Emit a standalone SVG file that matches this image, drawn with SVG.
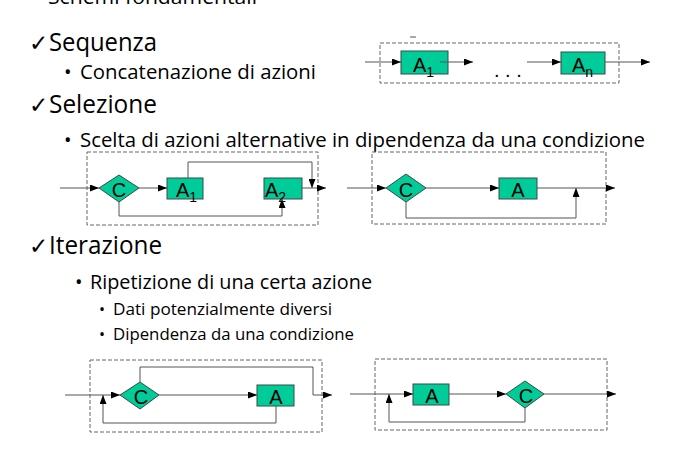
<svg xmlns="http://www.w3.org/2000/svg" width="693" height="473" viewBox="0 0 693 473">
<defs>
<marker id="arr" markerWidth="9" markerHeight="7" refX="9" refY="3.5" orient="auto" markerUnits="userSpaceOnUse"><path d="M0,0 L9,3.5 L0,7 z" fill="#000"/></marker>
<style>
.h{font-family:"Open Sans","Noto Sans",sans-serif;font-size:25px;fill:#000}
.b{font-family:"Open Sans","Noto Sans",sans-serif;font-size:20px;fill:#000}
.s{font-family:"Open Sans","Noto Sans",sans-serif;font-size:16px;fill:#000}
.ck{font-family:"DejaVu Sans",sans-serif;font-size:23px;fill:#000}
.box{fill:none;stroke:#666;stroke-width:1;stroke-dasharray:4,2}
.n{fill:#00CC99;stroke:#3a4a44;stroke-width:1}
.l{font-family:"Liberation Sans",Arial,sans-serif;font-size:20px;fill:#000}
.c{fill:none;stroke:#555;stroke-width:1}
.a{fill:none;stroke:#555;stroke-width:1;marker-end:url(#arr)}
</style>
</defs>
<rect width="693" height="473" fill="#fff"/>
<g id="texts">
<text class="b" x="48" y="4" textLength="209" lengthAdjust="spacingAndGlyphs">Schemi fondamentali</text>
<text class="ck" x="29" y="51">✓</text><text class="h" x="49" y="51" textLength="108" lengthAdjust="spacingAndGlyphs">Sequenza</text>
<text class="b" x="64" y="79">•</text><text class="b" x="80" y="79" textLength="236" lengthAdjust="spacingAndGlyphs">Concatenazione di azioni</text>
<text class="ck" x="29" y="113">✓</text><text class="h" x="49" y="113" textLength="108" lengthAdjust="spacingAndGlyphs">Selezione</text>
<text class="b" x="64" y="147">•</text><text class="b" x="80" y="147" textLength="565" lengthAdjust="spacingAndGlyphs">Scelta di azioni alternative in dipendenza da una condizione</text>
<text class="ck" x="29" y="254">✓</text><text class="h" x="49" y="254" textLength="113" lengthAdjust="spacingAndGlyphs">Iterazione</text>
<text class="b" x="75" y="289">•</text><text class="b" x="90" y="289" textLength="282" lengthAdjust="spacingAndGlyphs">Ripetizione di una certa azione</text>
<text class="s" x="99" y="315">•</text><text class="s" x="113" y="315" textLength="219" lengthAdjust="spacingAndGlyphs">Dati potenzialmente diversi</text>
<text class="s" x="99" y="340">•</text><text class="s" x="113" y="340" textLength="241" lengthAdjust="spacingAndGlyphs">Dipendenza da una condizione</text>
</g>
<g id="frames">
<rect class="box" x="380" y="43" width="239" height="40"/>
<line x1="410" y1="37" x2="416" y2="37" stroke="#555" stroke-width="1"/>
<rect class="box" x="87" y="152" width="231" height="73"/>
<rect class="box" x="372" y="152" width="234" height="72"/>
<rect class="box" x="90" y="360" width="232" height="72"/>
<rect class="box" x="375" y="359" width="232" height="71"/>
</g>
<g id="seq-A1"><rect class="n" x="401" y="51" width="47" height="23"/><text class="l" x="413" y="72">A<tspan font-size="14" dy="5">1</tspan></text></g>
<g id="seq-An"><rect class="n" x="561" y="52" width="44" height="22"/><text class="l" x="572" y="72">A<tspan font-size="14" dy="5">n</tspan></text></g>
<g id="seq-dots"><text class="l" x="494" y="77" font-size="14">. . .</text></g>
<g id="sel1-C"><polygon class="n" points="99,188 119,175 139,188 119,202"/><text class="l" x="119" y="197" text-anchor="middle">C</text></g>
<g id="sel1-A1"><rect class="n" x="167" y="178" width="36" height="21"/><text class="l" x="176" y="197">A<tspan font-size="14" dy="5">1</tspan></text></g>
<g id="sel1-A2"><rect class="n" x="264" y="178" width="38" height="21"/><text class="l" x="265" y="197">A<tspan font-size="14" dy="5">2</tspan></text></g>
<g id="sel2-C"><polygon class="n" points="386,188 406,174 426,188 406,202"/><text class="l" x="406" y="197" text-anchor="middle">C</text></g>
<g id="sel2-A"><rect class="n" x="499" y="178" width="38" height="21"/><text class="l" x="518" y="197" text-anchor="middle">A</text></g>
<g id="it1-C"><polygon class="n" points="120,395 140,382 159,395 140,409"/><text class="l" x="141" y="404" text-anchor="middle">C</text></g>
<g id="it1-A"><rect class="n" x="257" y="385" width="37" height="21"/><text class="l" x="276" y="404" text-anchor="middle">A</text></g>
<g id="it2-A"><rect class="n" x="413" y="384" width="36" height="21"/><text class="l" x="432" y="403" text-anchor="middle">A</text></g>
<g id="it2-C"><polygon class="n" points="506,394 525,381 544,394 525,408"/><text class="l" x="526" y="403" text-anchor="middle">C</text></g>
<g id="connectors">
<line class="a" x1="365" y1="62" x2="401" y2="62"/>
<line class="a" x1="440" y1="62" x2="473" y2="62"/>
<line class="a" x1="527" y1="62" x2="561" y2="62"/>
<line class="a" x1="605" y1="62" x2="650" y2="62"/>

<line class="a" x1="60" y1="188" x2="99" y2="188"/>
<line class="a" x1="139" y1="188" x2="167" y2="188"/>
<polyline class="a" points="188,178 188,162 312,162 312,188"/>
<polyline class="a" points="119,202 119,216 282,216 282,199"/>
<line class="a" x1="302" y1="188" x2="326" y2="188"/>

<line class="a" x1="347" y1="188" x2="386" y2="188"/>
<line class="a" x1="426" y1="188" x2="499" y2="188"/>
<line class="a" x1="537" y1="188" x2="615" y2="188"/>
<polyline class="a" points="406,202 406,218 576,218 576,188"/>

<line class="a" x1="65" y1="395" x2="120" y2="395"/>
<polyline class="a" points="140,382 140,367 313,367 313,395 332,395"/>
<line class="a" x1="159" y1="395" x2="257" y2="395"/>
<polyline class="a" points="276,406 276,423 103,423 103,395"/>

<line class="a" x1="350" y1="394" x2="413" y2="394"/>
<line class="a" x1="449" y1="394" x2="506" y2="394"/>
<line class="a" x1="544" y1="394" x2="616" y2="394"/>
<polyline class="a" points="525,408 525,422 389,422 389,394"/>
</g>
</svg>
